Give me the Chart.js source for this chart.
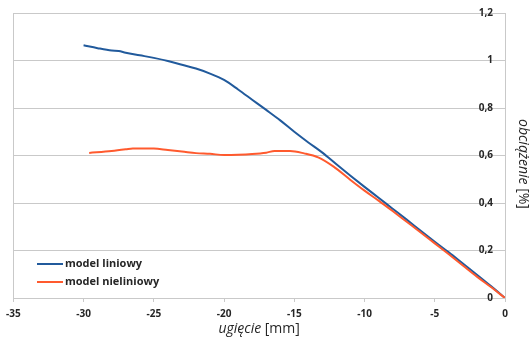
<!DOCTYPE html>
<html>
<head>
<meta charset="utf-8">
<script src="https://cdn.jsdelivr.net/npm/chart.js@4"></script>
<style>
  html, body { margin: 0; padding: 0; background: #fff; }
  #wrap { width: 531px; height: 340px; }
</style>
</head>
<body>
<div id="wrap"><canvas id="chart" width="531" height="340"></canvas></div>
<script>
// Values
const linearX = [-30, -29, -28, -27.5, -27, -26, -25, -24, -23, -22, -21, -20, -19, -18, -17, -16, -15, -14, -13, -12, -11, -10, -9, -8, -7, -6, -5, -4, -3, -2, -1, 0];
const linearY = [1.064, 1.052, 1.042, 1.040, 1.033, 1.022, 1.011, 0.998, 0.982, 0.966, 0.945, 0.918, 0.878, 0.835, 0.792, 0.748, 0.700, 0.655, 0.612, 0.563, 0.515, 0.468, 0.422, 0.376, 0.330, 0.283, 0.237, 0.192, 0.145, 0.098, 0.050, 0];

const nonlinearX = [-29.6, -28, -27, -26.5, -25, -24, -23, -22, -21, -20, -19, -18, -17, -16.4, -15.3, -14.3, -13.3, -12.2, -11, -10, -9, -8, -7, -6, -5, -4, -3, -2, -1, 0];
const nonlinearY = [0.611, 0.619, 0.626, 0.630, 0.629, 0.623, 0.617, 0.610, 0.607, 0.602, 0.603, 0.606, 0.612, 0.619, 0.619, 0.609, 0.592, 0.553, 0.497, 0.452, 0.410, 0.366, 0.321, 0.276, 0.230, 0.184, 0.137, 0.090, 0.046, 0];

const seriesNames = ['model liniowy', 'model nieliniowy'];
const seriesColors = ['#215a9c', '#ff5a2e'];

const xTitle = ['ugięcie', ' [mm]'];
const yTitle = ['obciążenie', ' [%]'];

const GRID = '#c9c9c9';
const TEXT = '#262626';
const FONT = '"Open Sans", "Liberation Sans", sans-serif';

const toPoints = (xs, ys) => xs.map((x, i) => ({ x: x, y: ys[i] }));

// Axis titles (italic + regular parts) and the legend inside the plot
const decorations = {
    id: 'decorations',
    afterDraw(chart) {
        const ctx = chart.ctx;
        const area = chart.chartArea;
        ctx.save();
        ctx.fillStyle = TEXT;
        ctx.textBaseline = 'middle';

        // mixed-style text helper
        const drawParts = (parts, cx, cy) => {
            const fonts = ['italic 14px ' + FONT, '14px ' + FONT];
            let total = 0;
            parts.forEach((p, i) => { ctx.font = fonts[i]; total += ctx.measureText(p).width; });
            let x = cx - total / 2;
            ctx.textAlign = 'left';
            parts.forEach((p, i) => {
                ctx.font = fonts[i];
                ctx.fillText(p, x, cy);
                x += ctx.measureText(p).width;
            });
        };

        drawParts(xTitle, (area.left + area.right) / 2, 329);

        ctx.save();
        ctx.translate(523, 164);
        ctx.rotate(Math.PI / 2);
        drawParts(yTitle, 0, 0);
        ctx.restore();

        // legend
        ctx.font = 'bold 11px ' + FONT;
        ctx.textAlign = 'left';
        const rows = [264, 282];
        seriesNames.forEach((name, i) => {
            ctx.strokeStyle = seriesColors[i];
            ctx.lineWidth = 2;
            ctx.beginPath();
            ctx.moveTo(37, rows[i]);
            ctx.lineTo(63, rows[i]);
            ctx.stroke();
            ctx.fillStyle = TEXT;
            ctx.fillText(name, 65, rows[i]);
        });
        ctx.restore();
    }
};

const fmt = v => Number(v.toFixed(1)).toString().replace('.', ',');

new Chart(document.getElementById('chart').getContext('2d'), {
    type: 'line',
    data: {
        datasets: [
            {
                label: seriesNames[0],
                data: toPoints(linearX, linearY),
                borderColor: seriesColors[0],
                borderWidth: 2,
                pointRadius: 0,
                cubicInterpolationMode: 'monotone',
                order: 2
            },
            {
                label: seriesNames[1],
                data: toPoints(nonlinearX, nonlinearY),
                borderColor: seriesColors[1],
                borderWidth: 2,
                pointRadius: 0,
                cubicInterpolationMode: 'monotone',
                order: 1
            }
        ]
    },
    options: {
        responsive: false,
        animation: false,
        layout: { padding: { left: 12, top: 13, right: 0, bottom: 0 } },
        plugins: {
            legend: { display: false },
            tooltip: { enabled: false }
        },
        scales: {
            x: {
                type: 'linear',
                min: -35,
                max: 0,
                ticks: {
                    stepSize: 5,
                    padding: 6,
                    maxRotation: 0,
                    autoSkip: false,
                    color: TEXT,
                    font: { family: FONT, size: 10, weight: 'bold' },
                    callback: v => String(v)
                },
                grid: {
                    color: c => (c.tick && c.tick.value === -35) ? GRID : 'rgba(0,0,0,0)',
                    tickColor: GRID,
                    tickLength: 4
                },
                border: { color: GRID },
                afterFit: s => { s.height = 42; }
            },
            y: {
                type: 'linear',
                position: 'right',
                min: 0,
                max: 1.2,
                ticks: {
                    stepSize: 0.2,
                    mirror: true,
                    crossAlign: 'near',
                    padding: -12,
                    color: TEXT,
                    font: { family: FONT, size: 10, weight: 'bold' },
                    callback: v => fmt(v)
                },
                grid: { color: GRID, drawTicks: false },
                border: { color: GRID },
                afterFit: s => { s.width = 26; }
            }
        }
    },
    plugins: [decorations]
});
</script>
</body>
</html>
